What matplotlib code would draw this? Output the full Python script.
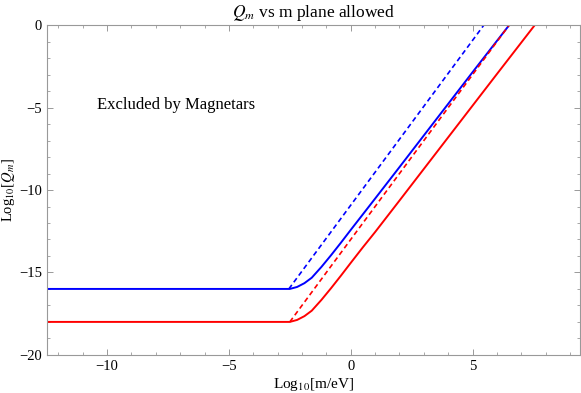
import matplotlib.pyplot as plt
from matplotlib.ticker import MultipleLocator

plt.rcParams['font.family'] = ['Liberation Serif', 'DejaVu Serif']
plt.rcParams['mathtext.fontset'] = 'stix'

# flat parts + curved parts
blue_x = [-12.5, -2.5, -2.2, -1.9, -1.6, -1.2, -0.8, -0.4, 0.0, 0.5, 1.0, 2.0, 3.0, 4.0, 5.0, 6.5]
blue_y = [-16.0, -16.0, -15.88, -15.65, -15.32, -14.66, -13.94, -13.19, -12.42, -11.47, -10.52, -8.61, -6.69, -4.77, -2.85, 0.0]
red_x = [-12.5, -2.5, -2.2, -1.9, -1.6, -1.2, -0.8, -0.4, 0.0, 0.5, 1.0, 2.0, 3.0, 4.0, 5.0, 6.0, 7.55]
red_y = [-18.0, -18.0, -17.88, -17.65, -17.32, -16.66, -15.94, -15.19, -14.42, -13.47, -12.55, -10.64, -8.72, -6.80, -4.88, -2.96, 0.0]

# dashed straight lines
blue_dash_x = [-2.54, 5.46]
blue_dash_y = [-16.0, 0.0]
red_dash_x = [-2.5, 6.5]
red_dash_y = [-18.0, 0.0]

fig, ax = plt.subplots(figsize=(5.81, 3.93), dpi=100)
fig.subplots_adjust(left=0.081, right=0.998, bottom=0.097, top=0.936)

ax.plot(blue_x, blue_y, color='#0000ff', lw=1.4)
ax.plot(red_x, red_y, color='#ff0000', lw=1.4)
ax.plot(blue_dash_x, blue_dash_y, color='#0000ff', lw=1.2, ls=(0, (3, 2)))
ax.plot(red_dash_x, red_dash_y, color='#ff0000', lw=1.2, ls=(0, (3, 2)))

ax.text(-7.15, -4.85, 'Excluded by Magnetars', fontsize=12, ha='center', va='center')

ax.set_xlim(-12.46, 9.4)
ax.set_ylim(-20, 0)
ax.set_title('$Q_m$ vs m plane allowed', fontsize=12.5, pad=6)
ax.set_xlabel('Log$_{10}$[m/eV]', fontsize=11, labelpad=2)
ax.set_ylabel('Log$_{10}$[$Q_m$]', fontsize=10.5, labelpad=1.5)

ax.xaxis.set_major_locator(MultipleLocator(5))
ax.xaxis.set_minor_locator(MultipleLocator(1))
ax.yaxis.set_major_locator(MultipleLocator(5))
ax.yaxis.set_minor_locator(MultipleLocator(1))
ax.tick_params(which='both', direction='in', top=True, right=True, color='#999999', labelsize=10.5)
ax.tick_params(which='major', length=4, width=0.7)
ax.tick_params(which='minor', length=2, width=0.6)
for s in ax.spines.values():
    s.set_color('#999999')
    s.set_linewidth(0.8)

fig.savefig('out.png', dpi=100)
